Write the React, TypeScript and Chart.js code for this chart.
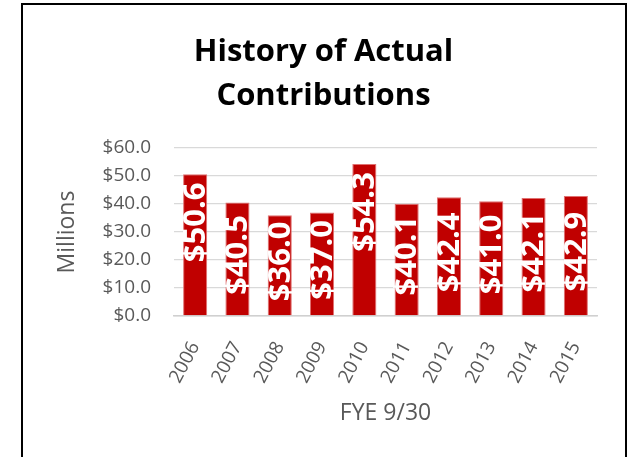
import React, { useEffect, useRef } from 'react';
import { Chart, registerables } from 'chart.js';

Chart.register(...registerables);

const categories = ['2006', '2007', '2008', '2009', '2010', '2011', '2012', '2013', '2014', '2015'];
const contributions = [50.6, 40.5, 36.0, 37.0, 54.3, 40.1, 42.4, 41.0, 42.1, 42.9];
const titleLines = ['History of Actual', 'Contributions'];
const yAxisTitle = 'Millions';
const xAxisTitle = 'FYE 9/30';
const yMin = 0;
const yMax = 60;
const yStep = 10;

const FONT = '"Open Sans", "Noto Sans", sans-serif';
const GRAY = '#595959';

const framePlugin = {
  id: 'frame',
  afterDraw(chart: any) {
    const ctx = chart.ctx;
    ctx.save();
    ctx.strokeStyle = '#000';
    ctx.lineWidth = 2;
    ctx.strokeRect(22, 4, 604, 520);
    ctx.restore();
  },
};

const barLabelPlugin = {
  id: 'barLabels',
  afterDatasetsDraw(chart: any) {
    const ctx = chart.ctx;
    const meta = chart.getDatasetMeta(0);
    const data = chart.data.datasets[0].data as number[];
    ctx.save();
    ctx.fillStyle = '#ffffff';
    ctx.font = `bold 31px ${FONT}`;
    ctx.textAlign = 'center';
    ctx.textBaseline = 'middle';
    meta.data.forEach((bar: any, i: number) => {
      const v = data[i];
      const top = bar.y;
      const base = bar.base;
      const cy = v >= 50 ? top + 48 : (top + base) / 2 - 4;
      ctx.save();
      ctx.translate(bar.x, cy);
      ctx.rotate(-Math.PI / 2);
      ctx.fillText('$' + v.toFixed(1), 0, 1);
      ctx.restore();
    });
    ctx.restore();
  },
};

export default function App() {
  const ref = useRef<HTMLCanvasElement | null>(null);

  useEffect(() => {
    if (!ref.current) return;
    const chart = new Chart(ref.current, {
      type: 'bar',
      data: {
        labels: categories,
        datasets: [
          {
            data: contributions,
            backgroundColor: '#C00000',
            borderColor: '#e07070',
            borderWidth: 1,
            barPercentage: 0.57,
            categoryPercentage: 1,
          },
        ],
      },
      plugins: [framePlugin, barLabelPlugin],
      options: {
        animation: false,
        responsive: false,
        devicePixelRatio: 1,
        layout: { padding: { left: 50, right: 31, top: 0, bottom: 20 } },
        plugins: {
          legend: { display: false },
          tooltip: { enabled: false },
          title: {
            display: true,
            text: titleLines,
            color: '#000000',
            font: { family: FONT, size: 31, weight: 'bold', lineHeight: 44 / 31 },
            padding: { top: 30, bottom: 30 },
          },
        },
        scales: {
          x: {
            grid: { display: false, drawTicks: false },
            border: { display: true, color: '#d0d0d0', width: 1.5 },
            ticks: {
              color: GRAY,
              font: { family: FONT, size: 19 },
              minRotation: 62,
              maxRotation: 62,
              padding: 22,
            },
            title: {
              display: true,
              text: xAxisTitle,
              color: GRAY,
              font: { family: FONT, size: 23 },
              padding: { top: 4, bottom: 10 },
            },
            afterFit: (s: any) => {
              s.height = 121;
            },
          },
          y: {
            min: yMin,
            max: yMax,
            grid: { color: '#d9d9d9', lineWidth: 1.3, drawTicks: false },
            border: { display: false },
            ticks: {
              stepSize: yStep,
              color: GRAY,
              font: { family: FONT, size: 19 },
              padding: 23,
              callback: (v: any) => '$' + Number(v).toFixed(1),
            },
            title: {
              display: true,
              text: yAxisTitle,
              color: GRAY,
              font: { family: FONT, size: 23 },
              padding: { top: 4, bottom: 4 },
            },
            afterFit: (s: any) => {
              s.width = 124;
            },
          },
        },
      } as any,
    });
    return () => chart.destroy();
  }, []);

  return (
    <canvas
      ref={ref}
      width={628}
      height={457}
      style={{ position: 'absolute', left: 0, top: 0, width: 628, height: 457 }}
    />
  );
}
